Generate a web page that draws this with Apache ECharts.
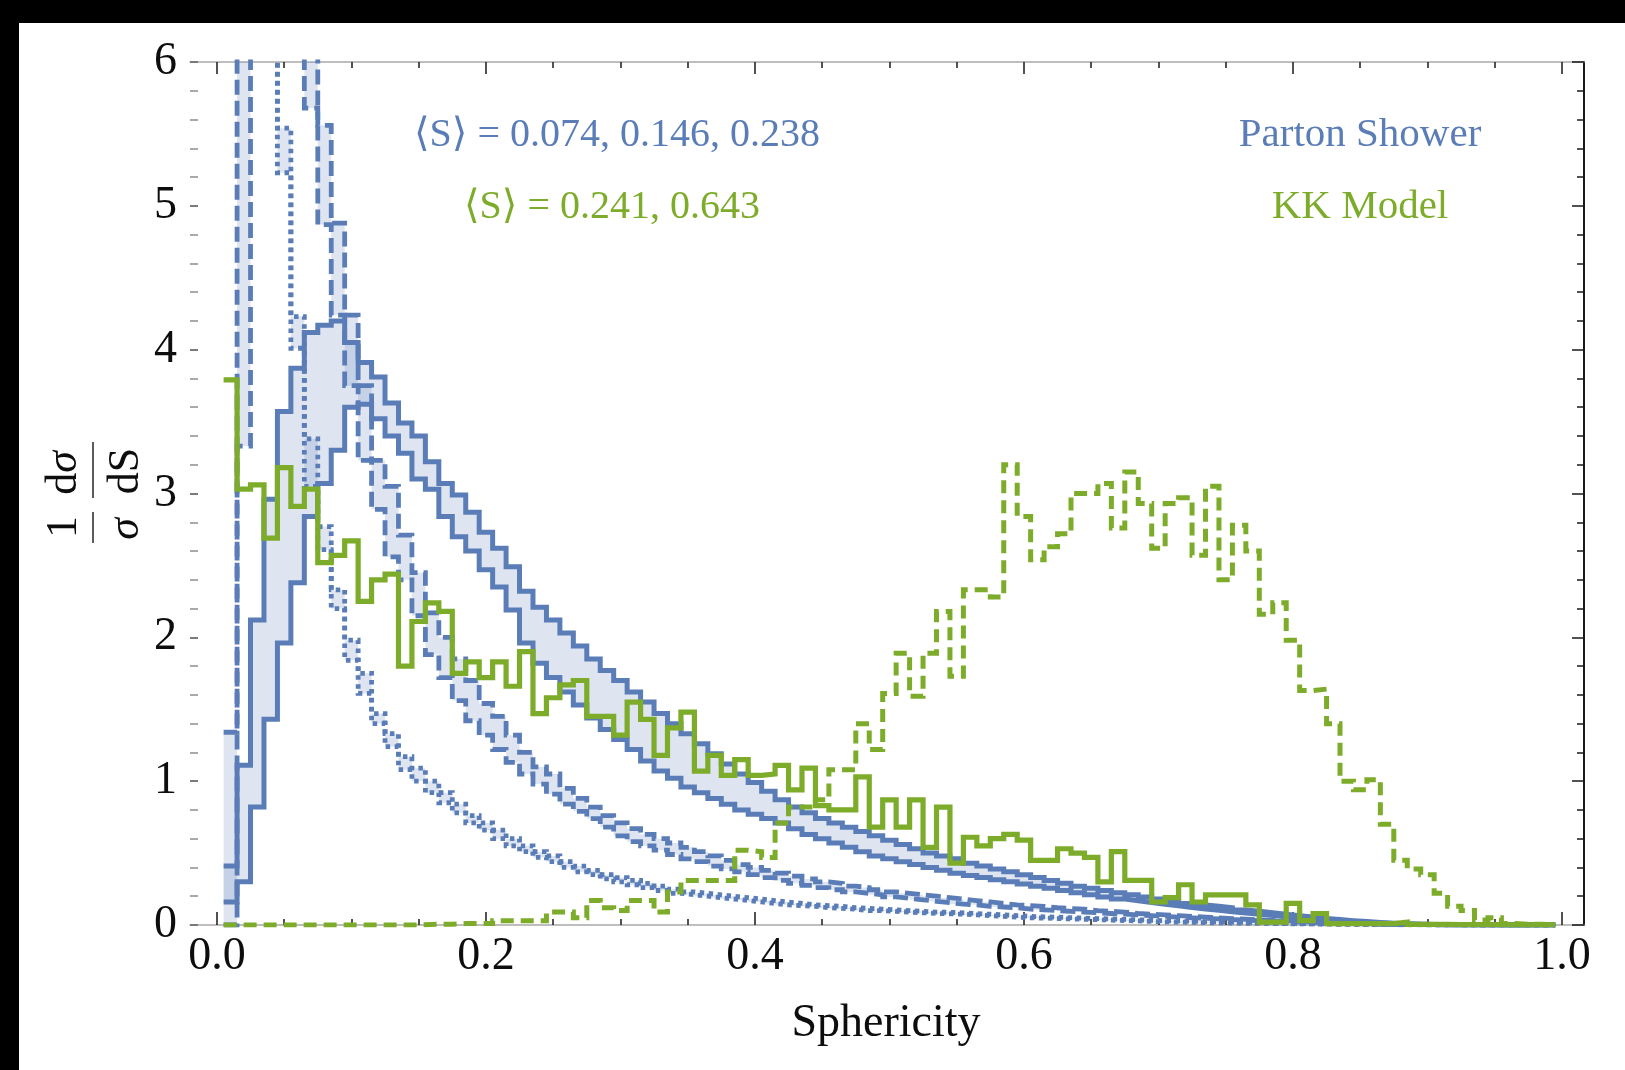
<!DOCTYPE html>
<html>
<head>
<meta charset="utf-8">
<title>Sphericity distributions</title>
<script src="https://cdn.jsdelivr.net/npm/echarts@6/dist/echarts.min.js"></script>
<style>
  html, body { margin: 0; padding: 0; background: #000; }
  #paper { position: absolute; left: 19px; top: 23px; width: 1606px; height: 1047px; background: #fff; }
  #chart { position: absolute; left: 0; top: 0; width: 1625px; height: 1070px; }
</style>
</head>
<body>
<div id="paper"></div>
<div id="chart"></div>
<script>
// Histogram bins: 99 bins of width 0.01, the first one starting at S = 0.005
const BIN_START = 0.005;
const BIN_WIDTH = 0.01;

// Parton shower, solid pair (<S> = 0.238): upper and lower edge of the band
const showerSolidHi = [
  0.41, 1.11, 2.12, 2.96, 3.57, 3.87, 4.12, 4.17, 4.20, 4.05,
  3.91, 3.81, 3.63, 3.49, 3.40, 3.22, 3.07, 2.99, 2.87, 2.73,
  2.62, 2.49, 2.32, 2.21, 2.12, 2.03, 1.94, 1.85, 1.77, 1.70,
  1.62, 1.55, 1.47, 1.40, 1.33, 1.26, 1.19, 1.12, 1.05, 0.99,
  0.93, 0.87, 0.82, 0.78, 0.74, 0.71, 0.68, 0.65, 0.62, 0.59,
  0.56, 0.53, 0.50, 0.48, 0.46, 0.43, 0.41, 0.39, 0.37, 0.35,
  0.33, 0.31, 0.29, 0.27, 0.255, 0.24, 0.225, 0.21, 0.195, 0.18,
  0.165, 0.15, 0.14, 0.13, 0.12, 0.105, 0.095, 0.085, 0.075, 0.065,
  0.055, 0.045, 0.038, 0.03, 0.024, 0.018, 0.013, 0.009, 0.006, 0.004,
  0.003, 0.002, 0.002, 0.001, 0.001, 0, 0, 0, 0
];
const showerSolidLo = [
  0.16, 0.30, 0.82, 1.43, 1.96, 2.38, 2.84, 3.07, 3.30, 3.60,
  3.62, 3.52, 3.40, 3.28, 3.10, 3.03, 2.84, 2.70, 2.60, 2.47,
  2.35, 2.19, 1.96, 1.82, 1.72, 1.62, 1.53, 1.44, 1.36, 1.29,
  1.22, 1.14, 1.07, 1.02, 0.96, 0.92, 0.88, 0.84, 0.80, 0.77,
  0.74, 0.71, 0.67, 0.63, 0.60, 0.57, 0.54, 0.51, 0.48, 0.46,
  0.44, 0.42, 0.40, 0.38, 0.36, 0.345, 0.33, 0.315, 0.30, 0.285,
  0.27, 0.255, 0.24, 0.225, 0.21, 0.195, 0.18, 0.168, 0.156, 0.145,
  0.133, 0.122, 0.112, 0.102, 0.092, 0.083, 0.074, 0.066, 0.058, 0.05,
  0.043, 0.036, 0.03, 0.024, 0.019, 0.014, 0.01, 0.007, 0.005, 0.003,
  0.002, 0.001, 0.001, 0, 0, 0, 0, 0, 0
];

// Parton shower, dashed pair (<S> = 0.146)
const showerDashedHi = [
  1.34, 8.5, 8.5, 8.5, 8.5, 8.5, 8.0, 5.56, 4.88, 4.24,
  3.75, 3.23, 3.05, 2.71, 2.45, 2.17, 2.00, 1.85, 1.70, 1.54,
  1.45, 1.32, 1.20, 1.10, 1.05, 0.95, 0.88, 0.82, 0.76, 0.71,
  0.67, 0.63, 0.60, 0.57, 0.54, 0.51, 0.48, 0.45, 0.42, 0.40,
  0.38, 0.36, 0.34, 0.32, 0.30, 0.29, 0.27, 0.26, 0.245, 0.23,
  0.22, 0.21, 0.20, 0.19, 0.18, 0.17, 0.16, 0.15, 0.14, 0.135,
  0.13, 0.12, 0.115, 0.11, 0.10, 0.095, 0.09, 0.08, 0.075, 0.07,
  0.065, 0.06, 0.055, 0.05, 0.045, 0.04, 0.036, 0.032, 0.028, 0.024,
  0.02, 0.017, 0.014, 0.011, 0.009, 0.007, 0.005, 0.004, 0.003, 0.002,
  0.001, 0.001, 0, 0, 0, 0, 0, 0, 0
];
const showerDashedLo = [
  0, 3.33, 8.0, 8.0, 8.0, 8.0, 5.68, 4.87, 4.24, 3.75,
  3.23, 2.89, 2.56, 2.40, 2.15, 1.88, 1.72, 1.56, 1.42, 1.32,
  1.22, 1.13, 1.05, 0.98, 0.91, 0.84, 0.79, 0.74, 0.68, 0.62,
  0.58, 0.55, 0.52, 0.49, 0.46, 0.44, 0.41, 0.39, 0.37, 0.35,
  0.33, 0.31, 0.29, 0.275, 0.26, 0.245, 0.23, 0.22, 0.21, 0.195,
  0.185, 0.175, 0.165, 0.155, 0.145, 0.14, 0.13, 0.125, 0.12, 0.11,
  0.105, 0.10, 0.095, 0.09, 0.085, 0.08, 0.075, 0.07, 0.065, 0.06,
  0.055, 0.05, 0.046, 0.042, 0.038, 0.034, 0.03, 0.027, 0.024, 0.021,
  0.018, 0.015, 0.012, 0.01, 0.008, 0.006, 0.004, 0.003, 0.002, 0.001,
  0, 0, 0, 0, 0, 0, 0, 0, 0
];

// Parton shower, dotted pair (<S> = 0.074)
const showerDottedHi = [
  12, 12, 12, 12, 5.54, 4.23, 3.38, 2.77, 2.33, 1.98,
  1.75, 1.47, 1.33, 1.17, 1.09, 1.00, 0.92, 0.84, 0.76, 0.71,
  0.66, 0.60, 0.55, 0.51, 0.48, 0.44, 0.41, 0.38, 0.35, 0.33,
  0.31, 0.29, 0.27, 0.25, 0.23, 0.22, 0.21, 0.20, 0.19, 0.18,
  0.17, 0.16, 0.15, 0.14, 0.135, 0.13, 0.12, 0.115, 0.11, 0.105,
  0.10, 0.095, 0.09, 0.088, 0.085, 0.08, 0.075, 0.07, 0.065, 0.06,
  0.057, 0.054, 0.051, 0.048, 0.045, 0.042, 0.039, 0.036, 0.033, 0.03,
  0.028, 0.026, 0.024, 0.022, 0.02, 0.018, 0.016, 0.014, 0.012, 0.01,
  0.009, 0.008, 0.007, 0.006, 0.005, 0.004, 0.003, 0.002, 0.002, 0.001,
  0.001, 0, 0, 0, 0, 0, 0, 0, 0
];
const showerDottedLo = [
  10, 10, 10, 10, 5.23, 4.01, 3.05, 2.61, 2.20, 1.84,
  1.61, 1.40, 1.24, 1.08, 1.00, 0.92, 0.85, 0.78, 0.71, 0.66,
  0.60, 0.55, 0.51, 0.47, 0.44, 0.40, 0.37, 0.35, 0.32, 0.30,
  0.28, 0.26, 0.24, 0.22, 0.21, 0.20, 0.19, 0.18, 0.17, 0.16,
  0.15, 0.14, 0.135, 0.13, 0.12, 0.115, 0.11, 0.10, 0.10, 0.095,
  0.09, 0.085, 0.08, 0.078, 0.075, 0.07, 0.065, 0.06, 0.055, 0.05,
  0.048, 0.045, 0.042, 0.04, 0.037, 0.034, 0.031, 0.028, 0.025, 0.022,
  0.02, 0.018, 0.016, 0.015, 0.014, 0.012, 0.011, 0.01, 0.009, 0.008,
  0.007, 0.006, 0.005, 0.004, 0.003, 0.002, 0.002, 0.001, 0.001, 0,
  0, 0, 0, 0, 0, 0, 0, 0, 0
];

// KK model, solid (<S> = 0.241)
const kkSolid = [
  3.79, 3.03, 3.06, 2.69, 3.18, 2.91, 3.03, 2.52, 2.57, 2.67,
  2.25, 2.40, 2.44, 1.80, 2.11, 2.24, 2.18, 1.75, 1.83, 1.72,
  1.83, 1.66, 1.90, 1.47, 1.58, 1.67, 1.70, 1.45, 1.45, 1.32,
  1.55, 1.43, 1.18, 1.37, 1.48, 1.07, 1.18, 1.04, 1.15, 1.04,
  1.05, 1.11, 0.94, 1.09, 0.83, 0.80, 0.80, 1.03, 0.68, 0.87,
  0.68, 0.87, 0.54, 0.82, 0.43, 0.61, 0.55, 0.60, 0.63, 0.59,
  0.45, 0.45, 0.53, 0.50, 0.47, 0.30, 0.51, 0.31, 0.31, 0.16,
  0.19, 0.28, 0.16, 0.21, 0.21, 0.21, 0.14, 0.02, 0.02, 0.15,
  0.03, 0.08, 0.01, 0.01, 0.01, 0.01, 0.01, 0.02, 0.005, 0.005,
  0.005, 0.003, 0.002, 0.002, 0.002, 0.001, 0.001, 0.001, 0.001
];

// KK model, dashed (<S> = 0.643)
const kkDashed = [
  0, 0, 0, 0, 0, 0, 0, 0, 0, 0,
  0, 0, 0, 0, 0.002, 0.005, 0.005, 0.01, 0.01, 0.01,
  0.03, 0.03, 0.03, 0.03, 0.09, 0.09, 0.05, 0.17, 0.12, 0.10,
  0.17, 0.17, 0.09, 0.23, 0.31, 0.31, 0.31, 0.31, 0.52, 0.51,
  0.47, 0.71, 0.82, 0.82, 0.87, 1.08, 1.08, 1.40, 1.22, 1.61,
  1.89, 1.59, 1.89, 2.18, 1.73, 2.33, 2.33, 2.28, 3.20, 2.84,
  2.54, 2.63, 2.72, 3.00, 3.00, 3.07, 2.76, 3.15, 2.93, 2.62,
  2.93, 2.97, 2.57, 3.05, 2.40, 2.78, 2.60, 2.16, 2.24, 1.98,
  1.63, 1.64, 1.40, 1.00, 0.94, 1.01, 0.70, 0.45, 0.39, 0.35,
  0.22, 0.13, 0.10, 0.035, 0.05, 0.01, 0.005, 0.005, 0
];

// Axis ticks and annotation text
const xMajorTicks = [0, 0.2, 0.4, 0.6, 0.8, 1.0];
const xMinorTicks = [0.05, 0.1, 0.15, 0.25, 0.3, 0.35, 0.45, 0.5, 0.55, 0.65, 0.7, 0.75, 0.85, 0.9, 0.95];
const showerMeans = '\u27E8S\u27E9 = 0.074, 0.146, 0.238';
const kkMeans = '\u27E8S\u27E9 = 0.241, 0.643';

const X_MIN = -0.02, X_MAX = 1.0164;
const Y_MIN = 0, Y_MAX = 6;

const BLUE = '#5a7db8';
const GREEN = '#7dac2a';
const BAND_FILL = 'rgba(90,125,184,0.2)';
const SERIF = '"Liberation Serif", "DejaVu Serif", serif';

// Step outline of a histogram: one point per left bin edge plus the closing edge
function stepPoints(vals) {
  const pts = vals.map((v, i) => [BIN_START + i * BIN_WIDTH, v]);
  pts.push([BIN_START + vals.length * BIN_WIDTH, vals[vals.length - 1]]);
  return pts;
}

function histLine(name, vals, color, dash, width, z) {
  return {
    type: 'line', name, data: stepPoints(vals), step: 'end',
    showSymbol: false, symbol: 'none', clip: true, silent: true, z,
    lineStyle: { color, width, type: dash, cap: 'butt', join: 'miter' }
  };
}

// Shaded region between the two histograms of a pair
function bandFill(name, a, b) {
  return {
    type: 'custom', name, z: 1, clip: true, silent: true,
    data: [0],
    renderItem(params, api) {
      const upper = [], back = [];
      for (let i = 0; i < a.length; i++) {
        const x0 = BIN_START + i * BIN_WIDTH, x1 = x0 + BIN_WIDTH;
        const hi = Math.max(a[i], b[i]);
        upper.push(api.coord([x0, hi]), api.coord([x1, hi]));
      }
      for (let i = a.length - 1; i >= 0; i--) {
        const x0 = BIN_START + i * BIN_WIDTH, x1 = x0 + BIN_WIDTH;
        const lo = Math.min(a[i], b[i]);
        back.push(api.coord([x1, lo]), api.coord([x0, lo]));
      }
      return {
        type: 'polygon',
        shape: { points: upper.concat(back) },
        style: { fill: BAND_FILL, stroke: null }
      };
    }
  };
}

function xAxisDef(position, ticks, length, withLabels, lineColor) {
  return {
    type: 'value', position, min: X_MIN, max: X_MAX,
    axisLine: { show: !!lineColor, onZero: false, lineStyle: { color: lineColor || '#000', width: 1.5 } },
    axisTick: { show: true, inside: true, length, customValues: ticks, lineStyle: { color: '#1a1a1a', width: 1.5 } },
    axisLabel: withLabels ? {
      show: true, customValues: ticks, margin: 9,
      formatter: v => v.toFixed(1),
      fontFamily: SERIF, fontSize: 46, color: '#0d0d0d'
    } : { show: false },
    splitLine: { show: false }, minorTick: { show: false }
  };
}

const chart = echarts.init(document.getElementById('chart'), null, { renderer: 'canvas' });

chart.setOption({
  animation: false,
  backgroundColor: 'transparent',
  grid: { left: 190, top: 62, width: 1394, height: 863, containLabel: false },
  xAxis: [
    xAxisDef('bottom', xMajorTicks, 13, true, '#a9a9a9'),
    xAxisDef('bottom', xMinorTicks, 6, false, null),
    xAxisDef('top', xMajorTicks, 12, false, '#a9a9a9'),
    xAxisDef('top', xMinorTicks, 6, false, null)
  ],
  yAxis: [
    {
      type: 'value', position: 'left', min: Y_MIN, max: Y_MAX, interval: 1,
      axisLine: { show: false, onZero: false },
      axisTick: { show: true, inside: true, length: 8, lineStyle: { color: '#7a7a7a', width: 2 } },
      minorTick: { show: true, splitNumber: 5, length: 8, lineStyle: { color: '#aaaaaa', width: 2 } },
      axisLabel: { show: true, margin: 13, fontFamily: SERIF, fontSize: 46, color: '#0d0d0d' },
      splitLine: { show: false }, minorSplitLine: { show: false }
    },
    {
      type: 'value', position: 'right', min: Y_MIN, max: Y_MAX, interval: 1,
      axisLine: { show: true, onZero: false, lineStyle: { color: '#1a1a1a', width: 2 } },
      axisTick: { show: true, inside: true, length: 12, lineStyle: { color: '#1a1a1a', width: 1.5 } },
      minorTick: { show: true, splitNumber: 5, length: 7, lineStyle: { color: '#1a1a1a', width: 1.5 } },
      axisLabel: { show: false },
      splitLine: { show: false }, minorSplitLine: { show: false }
    }
  ],
  series: [
    bandFill('shower dotted band', showerDottedHi, showerDottedLo),
    bandFill('shower dashed band', showerDashedHi, showerDashedLo),
    bandFill('shower solid band', showerSolidHi, showerSolidLo),
    histLine('shower dotted a', showerDottedHi, BLUE, [4.5, 4.5], 4.8, 3),
    histLine('shower dotted b', showerDottedLo, BLUE, [4.5, 4.5], 4.8, 3),
    histLine('shower dashed a', showerDashedHi, BLUE, [15, 6], 4.8, 4),
    histLine('shower dashed b', showerDashedLo, BLUE, [15, 6], 4.8, 4),
    histLine('shower solid a', showerSolidHi, BLUE, 'solid', 5, 5),
    histLine('shower solid b', showerSolidLo, BLUE, 'solid', 5, 5),
    histLine('KK dashed', kkDashed, GREEN, [13, 7], 5, 6),
    histLine('KK solid', kkSolid, GREEN, 'solid', 5.2, 7)
  ],
  graphic: { elements: [
    // axis title
    { type: 'text', x: 886, y: 1024, silent: true,
      style: { text: 'Sphericity', fontFamily: SERIF, fontSize: 46, fill: '#0d0d0d', align: 'center', verticalAlign: 'middle' } },
    // vertical axis title: (1/σ)(dσ/dS), read bottom to top
    { type: 'text', x: 64, y: 527, rotation: Math.PI / 2, silent: true,
      style: { text: '1', fontFamily: SERIF, fontSize: 44, fill: '#0d0d0d', align: 'center', verticalAlign: 'middle' } },
    { type: 'text', x: 126, y: 529, rotation: Math.PI / 2, silent: true,
      style: { text: 'σ', fontFamily: SERIF, fontStyle: 'italic', fontSize: 44, fill: '#0d0d0d', align: 'center', verticalAlign: 'middle' } },
    { type: 'line', silent: true, shape: { x1: 93, y1: 512, x2: 93, y2: 543 }, style: { stroke: '#333', lineWidth: 1.6 } },
    { type: 'text', x: 64, y: 473, rotation: Math.PI / 2, silent: true,
      style: { text: 'd{i|σ}', fontFamily: SERIF, fontSize: 44, fill: '#0d0d0d', align: 'center', verticalAlign: 'middle',
        rich: { i: { fontFamily: SERIF, fontStyle: 'italic', fontSize: 44, fill: '#0d0d0d' } } } },
    { type: 'text', x: 126, y: 471, rotation: Math.PI / 2, silent: true,
      style: { text: 'dS', fontFamily: SERIF, fontSize: 44, fill: '#0d0d0d', align: 'center', verticalAlign: 'middle' } },
    { type: 'line', silent: true, shape: { x1: 93, y1: 442, x2: 93, y2: 498 }, style: { stroke: '#333', lineWidth: 1.6 } },
    // annotations
    { type: 'text', x: 617, y: 135, silent: true,
      style: { text: showerMeans, fontFamily: SERIF, fontSize: 40, fill: BLUE, align: 'center', verticalAlign: 'middle' } },
    { type: 'text', x: 612, y: 207, silent: true,
      style: { text: kkMeans, fontFamily: SERIF, fontSize: 40, fill: GREEN, align: 'center', verticalAlign: 'middle' } },
    { type: 'text', x: 1360, y: 135, silent: true,
      style: { text: 'Parton Shower', fontFamily: SERIF, fontSize: 41, fill: BLUE, align: 'center', verticalAlign: 'middle' } },
    { type: 'text', x: 1360, y: 207, silent: true,
      style: { text: 'KK Model', fontFamily: SERIF, fontSize: 41, fill: GREEN, align: 'center', verticalAlign: 'middle' } }
  ] }
});
</script>
</body>
</html>
